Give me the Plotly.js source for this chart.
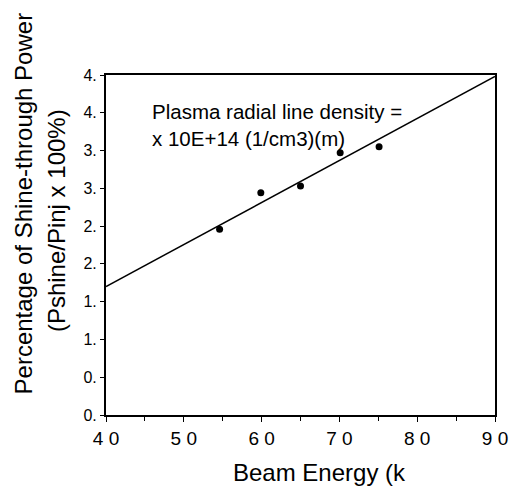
<!DOCTYPE html>
<html>
<head>
<meta charset="utf-8">
<script src="https://cdn.plot.ly/plotly-3.0.1.min.js"></script>
<style>html,body{margin:0;padding:0;background:#fff}#chart{width:518px;height:487px}</style>
</head>
<body>
<div id="chart"></div>
<script>
// Data
const beamEnergy = [54.6, 59.9, 65.0, 70.1, 75.1];
const shineThrough = [2.46, 2.94, 3.03, 3.47, 3.55];
const fitX = [40, 90];
const fitY = [1.70, 4.48];
const xTickVals = [40, 50, 60, 70, 80, 90];
const xTickText = ["4 0", "5 0", "6 0", "7 0", "8 0", "9 0"];
const yTickVals = [0, 0.5, 1, 1.5, 2, 2.5, 3, 3.5, 4, 4.5];
const yTickText = ["0.", "0.", "1.", "1.", "2.", "2.", "3.", "3.", "4.", "4."];

const FONT = "Liberation Sans, Arial, sans-serif";

const traces = [
  {x: fitX, y: fitY, mode: "lines", line: {color: "#000", width: 1.5}, hoverinfo: "skip", showlegend: false},
  {x: beamEnergy, y: shineThrough, mode: "markers", marker: {color: "#000", size: 7, symbol: "circle"}, showlegend: false}
];

const layout = {
  width: 518, height: 487,
  margin: {l: 106, r: 23, t: 75, b: 72},
  paper_bgcolor: "#fff", plot_bgcolor: "#fff",
  font: {family: FONT, color: "#000"},
  showlegend: false,
  xaxis: {
    range: [40, 90], tickvals: xTickVals, ticktext: xTickText,
    showgrid: false, zeroline: false, showline: true, mirror: true,
    linecolor: "#000", linewidth: 2, ticks: "outside", ticklen: 5, tickwidth: 1, tickcolor: "#000",
    minor: {dtick: 5, tick0: 45, ticks: "outside", ticklen: 4, tickcolor: "#000", showgrid: false},
    tickfont: {size: 19, family: FONT}
  },
  yaxis: {
    range: [0, 4.5], tickvals: yTickVals, ticktext: yTickText,
    showgrid: false, zeroline: false, showline: true, mirror: true,
    linecolor: "#000", linewidth: 2, ticks: "outside", ticklen: 4, tickwidth: 1, tickcolor: "#000",
    tickfont: {size: 16, family: FONT}
  },
  annotations: [
    {xref: "paper", yref: "paper", x: 0.113, y: 0.853, xanchor: "left", yanchor: "middle",
     text: "Plasma radial line density =<br>x 10E+14 (1/cm3)(m)", align: "left", showarrow: false,
     font: {size: 20.5, family: FONT}},
    {xref: "paper", yref: "paper", x: 0.549, y: -0.168, xanchor: "center", yanchor: "middle",
     text: "Beam Energy (k", showarrow: false, font: {size: 24, family: FONT}},
    {xref: "paper", yref: "paper", x: -0.211, y: 0.622, xanchor: "center", yanchor: "middle", textangle: -90,
     text: "Percentage of Shine-through Power", showarrow: false, font: {size: 24, family: FONT}},
    {xref: "paper", yref: "paper", x: -0.127, y: 0.572, xanchor: "center", yanchor: "middle", textangle: -90,
     text: "(Pshine/Pinj x 100%)", showarrow: false, font: {size: 24, family: FONT}}
  ]
};

Plotly.newPlot("chart", traces, layout, {displayModeBar: false, staticPlot: true});
</script>
</body>
</html>
